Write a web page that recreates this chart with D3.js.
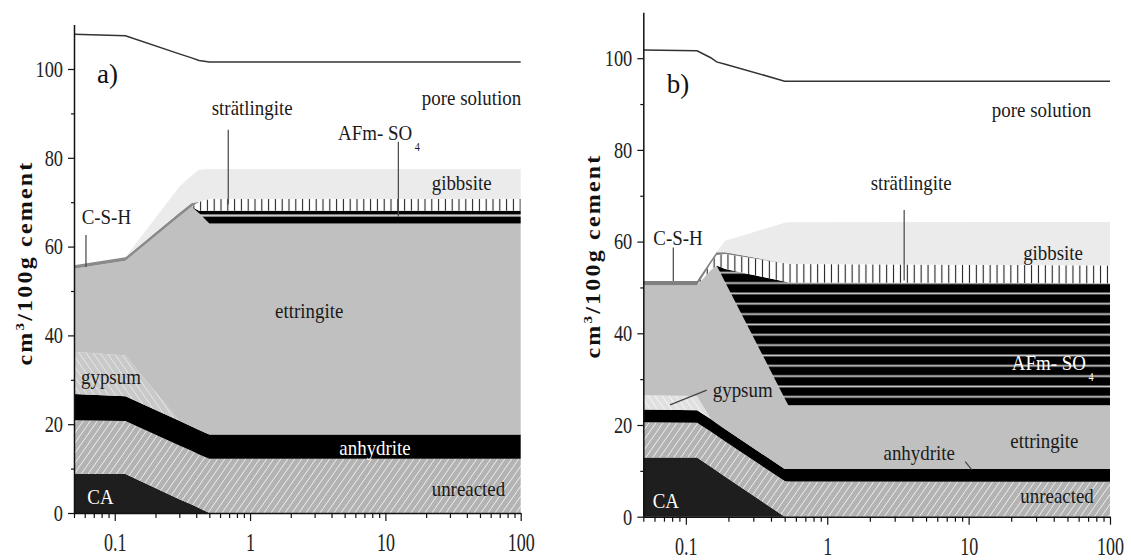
<!DOCTYPE html>
<html><head><meta charset="utf-8">
<script src="https://cdn.jsdelivr.net/npm/d3@7"></script>
<style>body{margin:0;background:#fff} svg text{font-family:"Liberation Serif","Times New Roman",serif}</style>
</head><body><svg id="c" width="1131" height="560"></svg>
<script>
// ---------------- data ----------------
const phases = ["CA","unreacted","anhydrite","gypsum","ettringite","AFm-SO4","strätlingite","C-S-H","gibbsite","pore solution"];

// panel a)  (time axis in log scale, volumes in cm3/100 g cement, stacked)
const timesA      = [0.05, 0.12, 0.3, 0.37, 0.42, 0.5, 100];
const caA         = [8.8, 8.8, 3.1, 1.9, 1.1, 0, 0];
const unreactedA  = [12.1, 11.9, 12.1, 12.1, 12.1, 12.2, 12.2];
const anhydriteA  = [5.9, 5.6, 5.6, 5.5, 5.5, 5.5, 5.5];
const gypsumA     = [9.5, 9.2, 0, 0, 0, 0, 0];
const ettringiteA = [18.7, 21.3, 46.0, 49.5, 48.8, 47.5, 47.5];
const afmA        = [0, 0, 0, 0, 0.6, 2.9, 2.9];
const stratA      = [0, 0, 0, 0, 2.0, 2.6, 2.6];
const cshA        = [0.8, 0.8, 0.8, 0.8, 0, 0, 0];
const gibbsiteA   = [0, 0, 5.9, 6.2, 7.2, 6.8, 6.8];
const poreA       = [52.0, 49.9, 29.9, 26.5, 24.6, 24.1, 24.1];

// panel b)
const timesB      = [0.05, 0.12, 0.15, 0.165, 0.19, 0.5, 0.53, 100];
const caB         = [12.9, 12.9, 10.9, 10.0, 8.7, 0, 0, 0];
const unreactedB  = [7.7, 7.6, 7.7, 7.7, 7.7, 7.8, 7.7, 7.6];
const anhydriteB  = [2.8, 2.7, 2.7, 2.7, 2.7, 2.6, 2.7, 2.8];
const gypsumB     = [3.1, 3.1, 0, 0, 0, 0, 0, 0];
const ettringiteB = [24.0, 24.2, 32.5, 34.4, 32.0, 15.4, 13.9, 13.9];
const afmB        = [0, 0, 0, 0, 2.9, 25.5, 26.8, 26.6];
const stratB      = [0, 0, 1.4, 2.3, 3.3, 4.0, 4.0, 3.9];
const cshB        = [0.9, 0.9, 0.6, 0.6, 0.4, 0, 0, 0];
const gibbsiteB   = [0, 0, 0, 0, 2.5, 8.8, 9.1, 9.5];
const poreB       = [50.4, 50.2, 44.3, 41.5, 38.5, 30.9, 30.8, 30.7];

const yTicks = [0, 20, 40, 60, 80, 100];
const yMinor = [10, 30, 50, 70, 90];
const xTicks = [0.1, 1, 10, 100];
const xTickLabels = ["0.1", "1", "10", "100"];
const yTitle = ["cm", "3", "/100g cement"];

// annotation labels: [text, t, v, colour]
const labelsA = [
  ["pore solution", 18.6, 91.9, "#1a1a1a"],
  ["strätlingite", 0.521, 89.6, "#1a1a1a"],
  ["gibbsite", 22.0, 72.7, "#1a1a1a"],
  ["C-S-H", 0.057, 65.2, "#1a1a1a"],
  ["ettringite", 1.53, 43.9, "#1a1a1a"],
  ["gypsum", 0.0563, 29.1, "#1a1a1a"],
  ["anhydrite", 4.57, 13.1, "#ffffff"],
  ["unreacted", 22.0, 3.8, "#1a1a1a"],
  ["CA", 0.0627, 2.0, "#ffffff"]
];
const labelsB = [
  ["pore solution", 14.6, 87.2, "#1a1a1a"],
  ["strätlingite", 2.03, 71.3, "#1a1a1a"],
  ["gibbsite", 24.3, 56.0, "#1a1a1a"],
  ["C-S-H", 0.0589, 59.3, "#1a1a1a"],
  ["ettringite", 19.7, 15.0, "#1a1a1a"],
  ["anhydrite", 2.50, 12.4, "#1a1a1a"],
  ["gypsum", 0.155, 26.2, "#1a1a1a"],
  ["unreacted", 23.2, 3.05, "#1a1a1a"],
  ["CA", 0.0583, 1.9, "#ffffff"]
];
// AFm label: [t, v, colour]
const afmLabelA = [4.47, 84.0, "#1a1a1a"];
const afmLabelB = [20.2, 32.0, "#ffffff"];
// leader lines: [t1, v1, t2, v2]
const leadersA = [[0.69, 86.3, 0.69, 69.5], [12.47, 83.6, 12.47, 66.7], [0.0613, 62.6, 0.0613, 55.4]];
const leadersB = [[3.5, 66.9, 3.5, 51.5], [0.0815, 58.7, 0.0815, 51.4], [9.46, 12.0, 10.55, 10.2], [0.0773, 24.4, 0.1405, 27.6]];

// ---------------- drawing ----------------
const svg = d3.select("#c");
const defs = svg.append("defs");

function makePatterns(id, o) {
  let p = defs.append("pattern").attr("id", "unr-" + id).attr("patternUnits", "userSpaceOnUse").attr("width", 7).attr("height", 10);
  p.append("rect").attr("width", 7).attr("height", 10).attr("fill", o.unrBase);
  p.append("path").attr("d", "M0,10L7,0M-7,10L0,0M7,10L14,0").attr("stroke", "#f4f4f4").attr("stroke-width", 0.9);

  p = defs.append("pattern").attr("id", "gyp-" + id).attr("patternUnits", "userSpaceOnUse").attr("width", 7).attr("height", 10);
  p.append("rect").attr("width", 7).attr("height", 10).attr("fill", o.gypBase);
  p.append("path").attr("d", "M0,0L7,10M-7,0L0,10M7,0L14,10").attr("stroke", o.gypLine).attr("stroke-width", 1);

  p = defs.append("pattern").attr("id", "str-" + id).attr("patternUnits", "userSpaceOnUse").attr("width", o.strW).attr("height", 20);
  p.append("rect").attr("width", o.strW).attr("height", 20).attr("fill", "#ffffff");
  p.append("line").attr("x1", o.strW / 2).attr("x2", o.strW / 2).attr("y1", 0).attr("y2", 20).attr("stroke", "#222").attr("stroke-width", 1.1);

  p = defs.append("pattern").attr("id", "afm-" + id).attr("patternUnits", "userSpaceOnUse").attr("width", 20).attr("height", o.afmP).attr("y", o.afmY);
  p.append("rect").attr("width", 20).attr("height", o.afmP).attr("fill", "#000");
  p.append("rect").attr("y", o.afmP / 2 - o.afmLw / 2).attr("width", 20).attr("height", o.afmLw).attr("fill", "#cdcdcd");
}

function panel(cfg) {
  const x = d3.scaleLog().domain([0.05, 100]).range(cfg.xr);
  const y = d3.scaleLinear().domain([0, 110]).range(cfg.yr);
  const rows = cfg.times.map((t, i) => { const r = { t }; phases.forEach((p, k) => r[p] = cfg.series[k][i]); return r; });
  const stack = d3.stack().keys(phases)(rows);
  makePatterns(cfg.id, Object.assign({}, cfg.pat, { afmY: y(cfg.pat.afmLineV) - cfg.pat.afmP / 2 }));

  const fills = {
    "CA": "#1e1e1e",
    "unreacted": `url(#unr-${cfg.id})`,
    "anhydrite": "#000000",
    "gypsum": `url(#gyp-${cfg.id})`,
    "ettringite": "#c0c0c0",
    "AFm-SO4": `url(#afm-${cfg.id})`,
    "strätlingite": `url(#str-${cfg.id})`,
    "C-S-H": cfg.cshColor,
    "gibbsite": "#ebebeb",
    "pore solution": "none"
  };
  const g = svg.append("g");
  const area = d3.area().x(d => x(d.data.t)).y0(d => y(d[0])).y1(d => y(d[1]));
  g.selectAll("path.layer").data(stack).join("path").attr("class", "layer")
    .attr("d", area).attr("fill", d => fills[d.key]);
  const top = stack[stack.length - 1];
  g.append("path").attr("d", d3.line().x(d => x(d.data.t)).y(d => y(d[1]))(top))
    .attr("fill", "none").attr("stroke", "#333").attr("stroke-width", 1.5);

  // leaders
  g.selectAll("line.lead").data(cfg.leaders).join("line").attr("class", "lead")
    .attr("x1", d => x(d[0])).attr("y1", d => y(d[1])).attr("x2", d => x(d[2])).attr("y2", d => y(d[3]))
    .attr("stroke", "#444").attr("stroke-width", 1.2);

  // labels
  const lab = g.selectAll("g.lab").data(cfg.labels).join("g").attr("class", "lab")
    .attr("transform", d => `translate(${x(d[1])},${y(d[2])}) scale(0.86,1)`);
  lab.append("text").attr("font-size", 22).attr("fill", d => d[3]).text(d => d[0]);
  const af = g.append("g").attr("transform", `translate(${x(cfg.afm[0])},${y(cfg.afm[1])}) scale(0.86,1)`)
    .append("text").attr("font-size", 22).attr("fill", cfg.afm[2]);
  af.append("tspan").text("AFm- SO");
  af.append("tspan").attr("font-size", 12).attr("dx", 3).attr("dy", 11).text("4");

  // panel letter
  g.append("text").attr("x", x(cfg.letter[1])).attr("y", y(cfg.letter[2])).attr("font-size", 27).attr("fill", "#111").text(cfg.letter[0]);

  // axes
  const ax = g.append("g").attr("transform", `translate(${cfg.xr[0]},0)`);
  ax.call(d3.axisLeft(y).tickValues(yTicks).tickSize(6).tickSizeOuter(0));
  const axm = g.append("g").attr("transform", `translate(${cfg.xr[0]},0)`);
  axm.call(d3.axisLeft(y).tickValues(yMinor).tickSize(3).tickSizeOuter(0).tickFormat(""));
  axm.select(".domain").remove();
  ax.selectAll(".tick text").attr("x", -11 / 0.8).attr("transform", "scale(0.8,1)")
    .attr("font-size", 23).attr("font-family", "Liberation Serif").attr("fill", "#222");

  const bx = g.append("g").attr("transform", `translate(0,${cfg.yr[0]})`);
  bx.call(d3.axisBottom(x).tickValues(xTicks).tickSize(8).tickSizeOuter(0).tickFormat((d, i) => xTickLabels[i]));
  const xMinor = [];
  [0.01, 0.1, 1, 10].forEach(dec => { for (let k = 2; k <= 9; k++) { const v = dec * k; if (v >= 0.05 && v < 100) xMinor.push(v); } });
  const bxm = g.append("g").attr("transform", `translate(0,${cfg.yr[0]})`);
  bxm.call(d3.axisBottom(x).tickValues(xMinor).tickSize(5).tickSizeOuter(0).tickFormat(""));
  bxm.select(".domain").remove();
  bx.selectAll(".tick text").attr("y", 38).attr("dy", 0).attr("transform", "scale(0.72,1)")
    .attr("font-size", 25).attr("font-family", "Liberation Serif").attr("fill", "#222");
  g.selectAll(".domain").attr("stroke", "#111").attr("stroke-width", 1.5);
  g.selectAll(".tick line").attr("stroke", "#111").attr("stroke-width", 1.2);

  // y title
  const tt = svg.append("text").attr("transform", `translate(${cfg.titleX},${cfg.titleY}) scale(0.85,1) rotate(-90)`)
    .attr("text-anchor", "middle").attr("font-weight", "bold").attr("font-size", 24).attr("letter-spacing", 2.2).attr("fill", "#111");
  tt.append("tspan").text(yTitle[0]);
  tt.append("tspan").attr("font-size", 15).attr("dy", -10).text(yTitle[1]);
  tt.append("tspan").attr("dy", 10).text(yTitle[2]);
}

panel({
  id: "a", xr: [74, 520.7], yr: [513, 24.6], times: timesA,
  series: [caA, unreactedA, anhydriteA, gypsumA, ettringiteA, afmA, stratA, cshA, gibbsiteA, poreA],
  pat: { unrBase: "#b3b3b3", gypBase: "#c9c9c9", gypLine: "#e6e6e6", strW: 6.8, afmP: 10.34, afmLw: 2.2, afmLineV: 67.0 },
  cshColor: "#8a8a8a", labels: labelsA, afm: afmLabelA, leaders: leadersA, letter: ["a)", 0.0739, 96.8],
  titleX: 32, titleY: 263
});
panel({
  id: "b", xr: [643.3, 1110], yr: [516.7, 12.35], times: timesB,
  series: [caB, unreactedB, anhydriteB, gypsumB, ettringiteB, afmB, stratB, cshB, gibbsiteB, poreB],
  pat: { unrBase: "#b3b3b3", gypBase: "#e0e0e0", gypLine: "#f6f6f6", strW: 6.9, afmP: 10.34, afmLw: 1.8, afmLineV: 48.7 },
  cshColor: "#808080", labels: labelsB, afm: afmLabelB, leaders: leadersB, letter: ["b)", 0.0732, 92.4],
  titleX: 600, titleY: 256
});
</script></body></html>
